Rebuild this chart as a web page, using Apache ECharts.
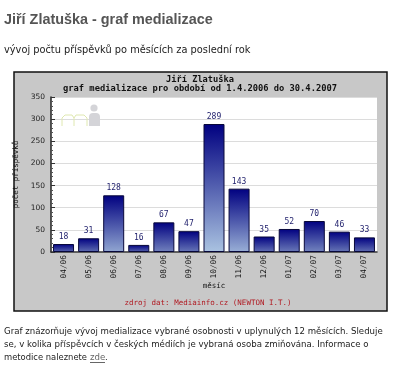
<!DOCTYPE html>
<html>
<head>
<meta charset="utf-8">
<title>Jiří Zlatuška - graf medializace</title>
<script src="https://cdn.jsdelivr.net/npm/echarts@6/dist/echarts.min.js"></script>
<style>
html, body { margin: 0; padding: 0; background: #fff; }
#chart { width: 400px; height: 368px; }
</style>
</head>
<body>
<div id="chart"></div>
<script>
var months = ['04/06', '05/06', '06/06', '07/06', '08/06', '09/06', '10/06', '11/06', '12/06', '01/07', '02/07', '03/07', '04/07']
var posts = [18, 31, 128, 16, 67, 47, 289, 143, 35, 52, 70, 46, 33]

var mono = '"DejaVu Sans Mono", monospace'
var sans = '"DejaVu Sans", sans-serif'

// short bars do not reach the light end of the gradient
function barFill (value) {
  var t = Math.min(1, 0.45 + value / 289 * 0.9)
  var r = Math.round(5 + 165 * t)
  var g = Math.round(5 + 190 * t)
  var b = Math.round(120 + 105 * t)
  return new echarts.graphic.LinearGradient(0, 0, 0, 1, [
    { offset: 0, color: '#000080' },
    { offset: 1, color: 'rgb(' + r + ',' + g + ',' + b + ')' }
  ])
}

function pageText (x, y, text, font, size, color, weight, align) {
  return {
    type: 'text',
    x: x,
    y: y,
    style: { text: text, fontFamily: font, fontSize: size, fontWeight: weight || 'normal', fill: color, align: align || 'left', verticalAlign: 'middle' }
  }
}

var myChart = echarts.init(document.getElementById('chart'), null, { renderer: 'canvas' })
myChart.setOption({
  animation: false,
  backgroundColor: '#fff',
  grid: { left: 51, right: 23, top: 97, bottom: 116 },
  graphic: [
    // chart panel and plot area behind the axes
    { type: 'rect', z: -2, shape: { x: 14, y: 72, width: 373, height: 239 }, style: { fill: '#c8c8c8', stroke: '#111', lineWidth: 1.5 } },
    { type: 'rect', z: -1, shape: { x: 51, y: 97, width: 326, height: 155 }, style: { fill: '#fff' } },
    // logo in the plot corner
    { type: 'circle', z: 1, shape: { cx: 94, cy: 108, r: 3.6 }, style: { fill: '#d4d4d8' } },
    { type: 'rect', z: 1, shape: { x: 89, y: 113, width: 11, height: 13, r: [4, 4, 0, 0] }, style: { fill: '#d4d4d8' } },
    { type: 'polyline', z: 1, shape: { points: [[62, 126], [62, 118], [65, 115], [72, 115], [74, 118], [74, 126]] }, style: { fill: 'none', stroke: '#dfe8b0', lineWidth: 1 } },
    { type: 'polyline', z: 1, shape: { points: [[74, 118], [76, 115], [84, 115], [87, 118], [87, 126]] }, style: { fill: 'none', stroke: '#dfe8b0', lineWidth: 1 } },
    pageText(4, 20, 'Jiří Zlatuška - graf medializace', '"Liberation Sans", Arial, sans-serif', 14.4, '#555', 'bold'),
    pageText(4, 50, 'vývoj počtu příspěvků po měsících za poslední rok', sans, 9.8, '#222'),
    pageText(200, 80, 'Jiří Zlatuška', mono, 8.7, '#111', 'bold', 'center'),
    pageText(200, 89, 'graf medializace pro období od 1.4.2006 do 30.4.2007', mono, 8.75, '#111', 'bold', 'center'),
    pageText(208, 303, 'zdroj dat: Mediainfo.cz (NEWTON I.T.)', mono, 7.5, '#b01820', 'normal', 'center'),
    pageText(4, 332, 'Graf znázorňuje vývoj medializace vybrané osobnosti v uplynulých 12 měsících. Sleduje', sans, 8.6, '#222'),
    pageText(4, 345, 'se, v kolika příspěvcích v českých médiích je vybraná osoba zmiňována. Informace o', sans, 8.6, '#222'),
    pageText(4, 358, 'metodice naleznete', sans, 8.4, '#222'),
    pageText(90, 358, 'zde', sans, 8.6, '#666'),
    pageText(105, 358, '.', sans, 8.6, '#222'),
    { type: 'line', shape: { x1: 90, y1: 362.5, x2: 105, y2: 362.5 }, style: { stroke: '#666', lineWidth: 1 } }
  ],
  xAxis: {
    type: 'category',
    data: months,
    name: 'měsíc',
    nameLocation: 'middle',
    nameGap: 30,
    nameTextStyle: { fontFamily: mono, fontSize: 7.5, color: '#111' },
    axisTick: { show: false },
    axisLine: { lineStyle: { color: '#333', width: 1.5 } },
    axisLabel: { rotate: 90, interval: 0, margin: 3, fontFamily: mono, fontSize: 7.8, color: '#111' }
  },
  yAxis: {
    type: 'value',
    min: 0,
    max: 350,
    interval: 50,
    name: 'počet příspěvků',
    nameLocation: 'middle',
    nameGap: 11,
    nameTextStyle: { fontFamily: mono, fontSize: 7.5, color: '#111' },
    axisLine: { show: true, lineStyle: { color: '#222', width: 1.5 } },
    axisTick: { show: true, inside: true, length: 4, lineStyle: { color: '#333' } },
    minorTick: { show: true, splitNumber: 5, length: 2, lineStyle: { color: '#555' } },
    axisLabel: { margin: 6, fontFamily: sans, fontSize: 7.5, color: '#222' },
    splitLine: { show: true, lineStyle: { color: '#dcdcdc', width: 1 } }
  },
  series: [
    {
      name: 'počet příspěvků',
      type: 'bar',
      barWidth: 21,
      z: 3,
      data: posts.map(function (v) {
        return { value: v, itemStyle: { color: barFill(v), borderColor: '#08083a', borderWidth: 1 } }
      }),
      label: { show: true, position: 'top', distance: 3, fontFamily: mono, fontSize: 8, color: '#23236e' }
    }
  ]
})
</script>
</body>
</html>
